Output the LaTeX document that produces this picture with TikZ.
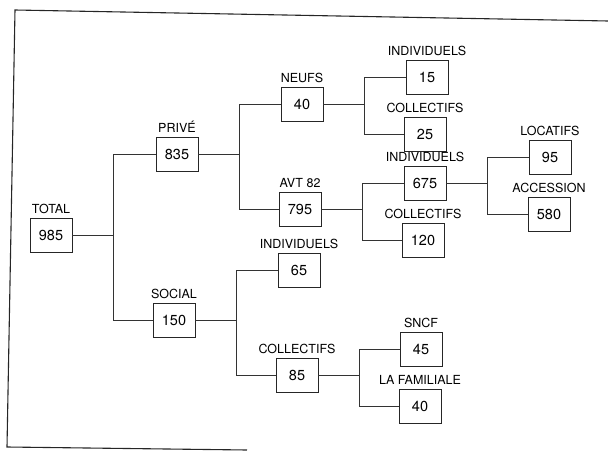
\documentclass[tikz,border=0pt]{standalone}
\usepackage{fontspec}
\setmainfont{TeX Gyre Heros}
\usetikzlibrary{positioning}

\tikzset{
  box/.style={draw=black!85, line width=0.8pt, minimum width=42pt, minimum height=34pt,
    inner sep=0pt, font=\fontsize{14.5}{15}\selectfont},
  lab/.style={inner sep=0pt, font=\fontsize{12.5}{13}\selectfont},
  link/.style={draw=black!80, line width=0.7pt},
}

\begin{document}
\begin{tikzpicture}[x=1pt, y=-1pt]
  \useasboundingbox (0,0) rectangle (608,452);
  % cadre
  \draw[line width=1.1pt, black!85] (247,450) -- (7,447) -- (15,10) -- (608,21);
  % boites + titres
  \foreach \n/\x/\y/\t/\v in {tot/51/235/TOTAL/985, prive/177/154/PRIVÉ/835,
      social/174/320/SOCIAL/150, neufs/302/104/NEUFS/40, avt/300/209/AVT 82/795,
      i15/427/77/INDIVIDUELS/15, c25/425/134/COLLECTIFS/25,
      i675/425/183/INDIVIDUELS/675, c120/423/240/COLLECTIFS/120,
      loc/550/157/LOCATIFS/95, acc/549/214/ACCESSION/580,
      i65/299/270/INDIVIDUELS/65, c85/297/375/COLLECTIFS/85,
      sncf/421/349/SNCF/45, fam/420/406/LA FAMILIALE/40} {
    \node[box] (\n) at (\x,\y) {\v};
    \node[lab, above=4pt of \n] (\n-t) {\t};
  }
  % branches
  \foreach \a/\b/\c in {tot/prive/social, prive/neufs/avt, neufs/i15/c25,
      avt/i675/c120, i675/loc/acc, social/i65/c85, c85/sncf/fam} {
    \coordinate (\a-j) at ([xshift=41pt]\a.east);
    \draw[link] (\a.east) -- (\a-j);
    \draw[link] (\b.west) -| (\a-j) |- (\c.west);
  }
\end{tikzpicture}
\end{document}
